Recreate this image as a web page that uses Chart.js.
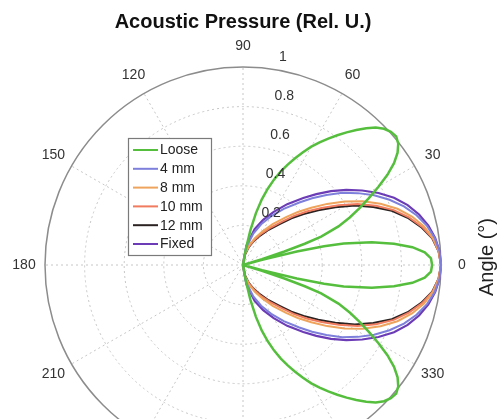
<!DOCTYPE html>
<html>
<head>
<meta charset="utf-8">
<script src="https://cdn.jsdelivr.net/npm/chart.js@4.4.1/dist/chart.umd.min.js"></script>
<style>
html, body { margin: 0; padding: 0; overflow: hidden; background: #fff; }
#wrap { width: 500px; height: 480px; }
</style>
</head>
<body>
<div id="wrap"><canvas id="c" width="500" height="480"></canvas></div>
<script>
// ---- data (angles in degrees, relative pressure) ----
const seriesNames = ['Loose', '4 mm', '8 mm', '10 mm', '12 mm', 'Fixed'];

const looseAngles = [-90,-82,-80,-78,-76,-74,-72,-70,-68,-66,-64,-62,-60,-58,-56,-54,-52,-50,-48,-46,-44,-42,-40,-38,-36,-34,-32,-30,-28,-26,-24,-22,-20,-19,-18,-17,-16,-15,-14,-13,-12,-10,-8,-6,-4,-2,0,2,4,6,8,10,12,13,14,15,16,17,18,19,20,22,24,26,28,30,32,34,36,38,40,42,44,46,48,50,52,54,56,58,60,62,64,66,68,70,72,74,76,78,80,82,90];
const looseValues = [0,0,.08,.18,.27,.345,.405,.46,.51,.555,.60,.645,.69,.73,.77,.81,.85,.89,.93,.965,.99,1.005,1.01,.995,.965,.92,.86,.79,.72,.655,.59,.52,.42,.33,.22,.10,0,.10,.28,.42,.52,.66,.77,.86,.92,.95,.955,.95,.92,.86,.77,.66,.52,.42,.28,.10,0,.10,.22,.33,.42,.52,.59,.655,.72,.79,.86,.92,.965,.995,1.01,1.005,.99,.965,.93,.89,.85,.81,.77,.73,.69,.645,.60,.555,.51,.46,.405,.345,.27,.18,.08,0,0];

const angles = [-90,-80,-72,-66,-60,-54,-48,-44,-40,-36,-32,-28,-24,-20,-16,-12,-8,-4,0,4,8,12,16,20,24,28,32,36,40,44,48,54,60,66,72,80,90];
const mm4Values   = [0,.09,.165,.225,.285,.35,.425,.485,.55,.62,.685,.75,.81,.865,.912,.95,.978,.995,1,.995,.978,.95,.912,.865,.81,.75,.685,.62,.55,.485,.425,.35,.285,.225,.165,.09,0];
const mm8Values   = [0,.06,.11,.15,.195,.255,.325,.385,.45,.525,.605,.685,.76,.83,.888,.935,.97,.992,1,.992,.97,.935,.888,.83,.76,.685,.605,.525,.45,.385,.325,.255,.195,.15,.11,.06,0];
const mm10Values  = [0,.055,.10,.135,.18,.23,.295,.355,.42,.49,.57,.655,.735,.81,.872,.925,.967,.99,1,.99,.967,.925,.872,.81,.735,.655,.57,.49,.42,.355,.295,.23,.18,.135,.10,.055,0];
const mm12Values  = [0,.05,.095,.13,.17,.22,.28,.34,.40,.47,.55,.64,.72,.80,.865,.92,.965,.99,1,.99,.965,.92,.865,.80,.72,.64,.55,.47,.40,.34,.28,.22,.17,.13,.095,.05,0];
const fixedValues = [0,.10,.19,.25,.31,.38,.455,.515,.58,.645,.71,.775,.835,.885,.925,.957,.98,.995,1,.995,.98,.957,.925,.885,.835,.775,.71,.645,.58,.515,.455,.38,.31,.25,.19,.10,0];

const angleTicks = [0,30,60,90,120,150,180,210,240,270,300,330];
const radialTicks = [0.2, 0.4, 0.6, 0.8, 1];
const radialTickLabels = ['0.2', '0.4', '0.6', '0.8', '1'];

// ---- build radar tables (1 degree per category, 0° at right, counter-clockwise) ----
const idxOf = a => (((90 - a) % 360) + 360) % 360;
const labels = [];
for (let i = 0; i < 360; i++) labels.push(String(((90 - i) % 360 + 360) % 360));
function toRadar(angs, vals) {
  const d = new Array(360).fill(null);
  angs.forEach((a, k) => { d[idxOf(a)] = vals[k]; });
  return d;
}

const colors = ['#55bf3d', '#7d7fdb', '#eea45c', '#f07b5f', '#2b2222', '#6b3cb6'];
const widths = [2.5, 2, 2, 2, 2, 2.2];
const rawSeries = [
  [looseAngles, looseValues],
  [angles, mm4Values],
  [angles, mm8Values],
  [angles, mm10Values],
  [angles, mm12Values],
  [angles, fixedValues]
];

const datasets = rawSeries.map((s, k) => ({
  label: seriesNames[k],
  data: toRadar(s[0], s[1]),
  borderColor: colors[k],
  backgroundColor: colors[k],
  borderWidth: widths[k],
  pointRadius: 0,
  pointHoverRadius: 0,
  fill: false,
  spanGaps: true,
  tension: 0
}));

const FONT = '"Liberation Sans", Arial, sans-serif';

const polarDecor = {
  id: 'polarDecor',
  beforeDatasetsDraw(chart) {
    const s = chart.scales.r, ctx = chart.ctx;
    ctx.save();
    ctx.strokeStyle = '#8c8c8c';
    ctx.lineWidth = 1.5;
    ctx.setLineDash([]);
    ctx.beginPath();
    ctx.arc(s.xCenter, s.yCenter, s.getDistanceFromCenterForValue(1), 0, Math.PI * 2);
    ctx.stroke();
    ctx.restore();
  },
  afterDatasetsDraw(chart) {
    const s = chart.scales.r, ctx = chart.ctx;
    ctx.save();
    // angle labels
    ctx.fillStyle = '#333';
    ctx.font = '14px ' + FONT;
    ctx.textAlign = 'center';
    ctx.textBaseline = 'middle';
    angleTicks.forEach(a => {
      const p = s.getPointPosition(idxOf(a), s.drawingArea + 21);
      ctx.fillText(String(a), p.x, p.y);
    });
    // radial labels (placed near 80°)
    ctx.textAlign = 'left';
    radialTicks.forEach((v, k) => {
      const p = s.getPointPosition(idxOf(80), s.getDistanceFromCenterForValue(v));
      ctx.fillText(radialTickLabels[k], s.xCenter + 14 + 22 * v, p.y - 13);
    });
    // legend
    const bx = 128, by = 138, bw = 83, bh = 117;
    ctx.fillStyle = '#fff';
    ctx.fillRect(bx, by, bw, bh);
    ctx.strokeStyle = '#7a7a7a';
    ctx.lineWidth = 1.2;
    ctx.strokeRect(bx + 0.5, by + 0.5, bw, bh);
    chart.data.datasets.forEach((d, k) => {
      const y = 150 + k * 18.8;
      ctx.strokeStyle = d.borderColor;
      ctx.lineWidth = 2;
      ctx.beginPath();
      ctx.moveTo(133, y);
      ctx.lineTo(158, y);
      ctx.stroke();
      ctx.fillStyle = '#222';
      ctx.textAlign = 'left';
      ctx.textBaseline = 'middle';
      ctx.fillText(d.label, 160, y + 0.5);
    });
    // axis label
    ctx.translate(487, 257);
    ctx.rotate(-Math.PI / 2);
    ctx.fillStyle = '#222';
    ctx.font = '20px ' + FONT;
    ctx.textAlign = 'center';
    ctx.textBaseline = 'middle';
    ctx.fillText('Angle (°)', 0, 0);
    ctx.restore();
  }
};

new Chart(document.getElementById('c'), {
  type: 'radar',
  data: { labels: labels, datasets: datasets },
  options: {
    responsive: false,
    animation: false,
    events: [],
    layout: { padding: { left: 45, right: 59, top: 0, bottom: 17 } },
    plugins: {
      legend: { display: false },
      tooltip: { enabled: false },
      title: {
        display: true,
        text: 'Acoustic Pressure (Rel. U.)',
        color: '#111',
        font: { family: FONT, size: 20, weight: 'bold' },
        padding: { top: 10, bottom: 33 }
      }
    },
    scales: {
      r: {
        min: 0,
        max: 1,
        startAngle: 0,
        ticks: { display: false, stepSize: 0.2 },
        pointLabels: { display: false },
        grid: {
          circular: true,
          color: '#c6c6c6',
          lineWidth: (c) => (c.tick && c.tick.value >= 1 ? 0 : 1)
        },
        border: { dash: [2, 3] },
        angleLines: {
          display: true,
          color: '#c6c6c6',
          borderDash: [2, 3],
          lineWidth: (c) => (Number(labels[c.index]) % 30 === 0 ? 1 : 0)
        }
      }
    }
  },
  plugins: [polarDecor]
});
</script>
</body>
</html>
